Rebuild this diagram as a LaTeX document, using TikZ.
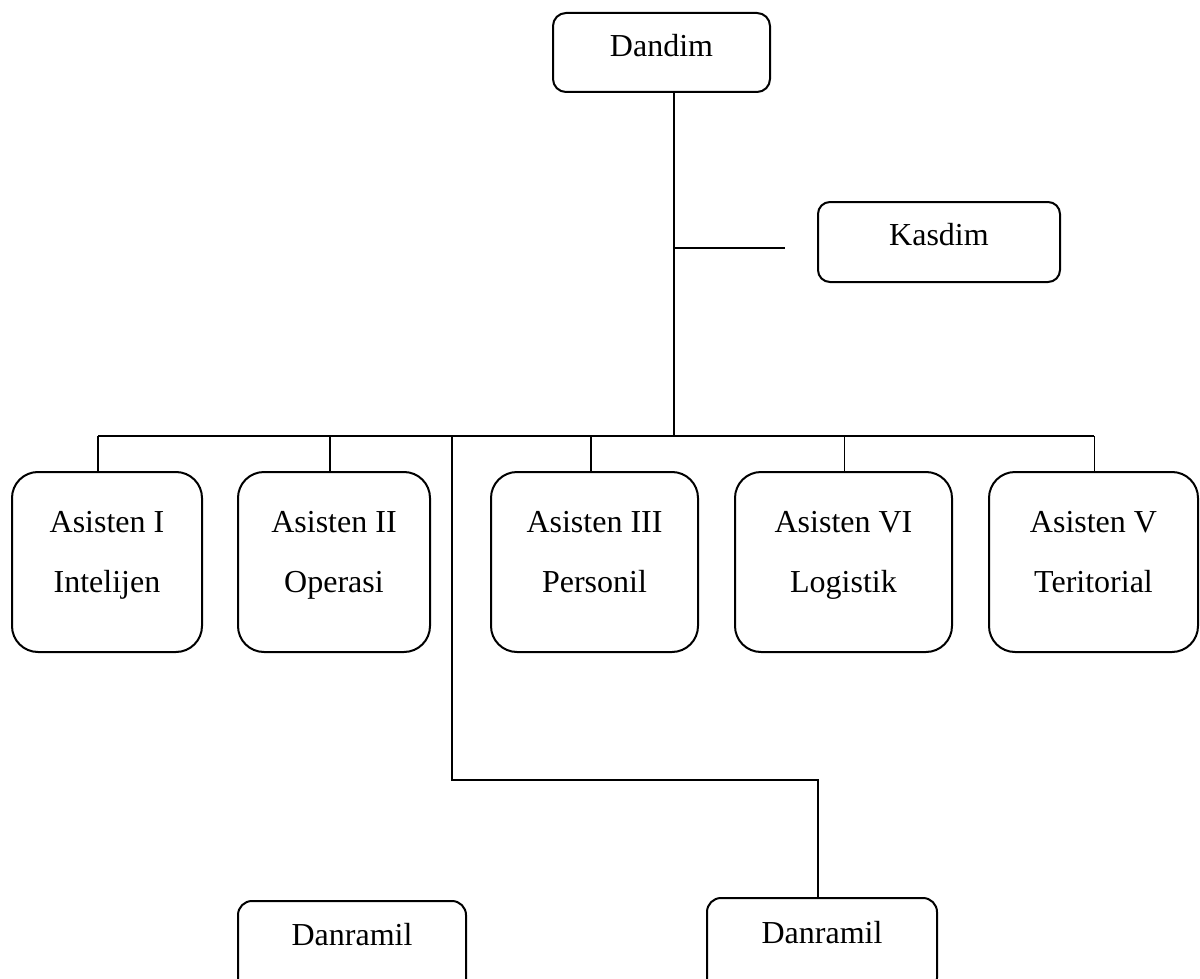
\documentclass[tikz,border=0pt]{standalone}
\usepackage{fontspec}
\setmainfont{Liberation Serif}
\begin{document}
\begin{tikzpicture}[x=0.5pt,y=-0.5pt,
  orgbox/.style={draw=black, line width=1pt, fill=white, inner sep=0pt},
  txt/.style={inner sep=0pt, font=\fontsize{16}{30}\selectfont, align=center},
  link/.style={draw=black, line width=1pt},
  thinlink/.style={draw=black, line width=0.5pt}]
\clip (0,0) rectangle (1200,979);
\fill[white] (0,0) rectangle (1200,979);

% top level
\node[orgbox, rounded corners=6.5pt, minimum width=108.5pt, minimum height=39.5pt] (dandim) at (661.5,52.5) {};
\node[txt, anchor=base] (dandimT) at (661.5,57) {Dandim};
\node[orgbox, rounded corners=6pt, minimum width=121pt, minimum height=40pt] (kasdim) at (939,242) {};
\node[txt, anchor=base] (kasdimT) at (939,245) {Kasdim};

% assistants
\tikzset{asbox/.style={orgbox, rounded corners=13pt, minimum height=90pt}}
\node[asbox, minimum width=95pt]    (a1) at (107,562) {};
\node[asbox, minimum width=96pt]    (a2) at (334,562) {};
\node[asbox, minimum width=103.5pt] (a3) at (594.5,562) {};
\node[asbox, minimum width=108.5pt] (a4) at (843.5,562) {};
\node[asbox, minimum width=104.5pt] (a5) at (1093.5,562) {};
\node[txt, anchor=north] (a1T) at (107,511)    {Asisten I\\Intelijen};
\node[txt, anchor=north] (a2T) at (334,511)    {Asisten II\\Operasi};
\node[txt, anchor=north] (a3T) at (594.5,511)  {Asisten III\\Personil};
\node[txt, anchor=north] (a4T) at (843.5,511)  {Asisten VI\\Logistik};
\node[txt, anchor=north] (a5T) at (1093.5,511) {Asisten V\\Teritorial};

% sub-district commanders
\node[orgbox, rounded corners=7pt, minimum width=114pt, minimum height=47pt] (d1) at (352,948) {};
\node[txt, anchor=base] (d1T) at (352,945) {Danramil};
\node[orgbox, rounded corners=7pt, minimum width=115pt, minimum height=47pt] (d2) at (822,945) {};
\node[txt, anchor=base] (d2T) at (822,943) {Danramil};

% junction points
\coordinate (j0) at (674,436);
\coordinate (kj) at (674,248);
\coordinate (kend) at (785,248);
\coordinate (t1) at (98,436);
\coordinate (t2) at (330,436);
\coordinate (t3) at (591,436);
\coordinate (t4) at (844,436);
\coordinate (t5) at (1094,436);
\coordinate (tb) at (452,436);
\coordinate (elbow) at (818,780);

% connectors
\draw[link] (dandim.south -| j0) -- (j0);
\draw[link] (kj) -- (kend);
\draw[link] (t1) -- (t5);
\draw[link] (t1) -- (t1 |- a1.north);
\draw[link] (t2) -- (t2 |- a2.north);
\draw[link] (t3) -- (t3 |- a3.north);
\draw[thinlink] (t4) -- (t4 |- a4.north);
\draw[thinlink] (t5) -- (t5 |- a5.north);
\draw[link] (tb) |- (elbow) -- (elbow |- d2.north);
\end{tikzpicture}
\end{document}
